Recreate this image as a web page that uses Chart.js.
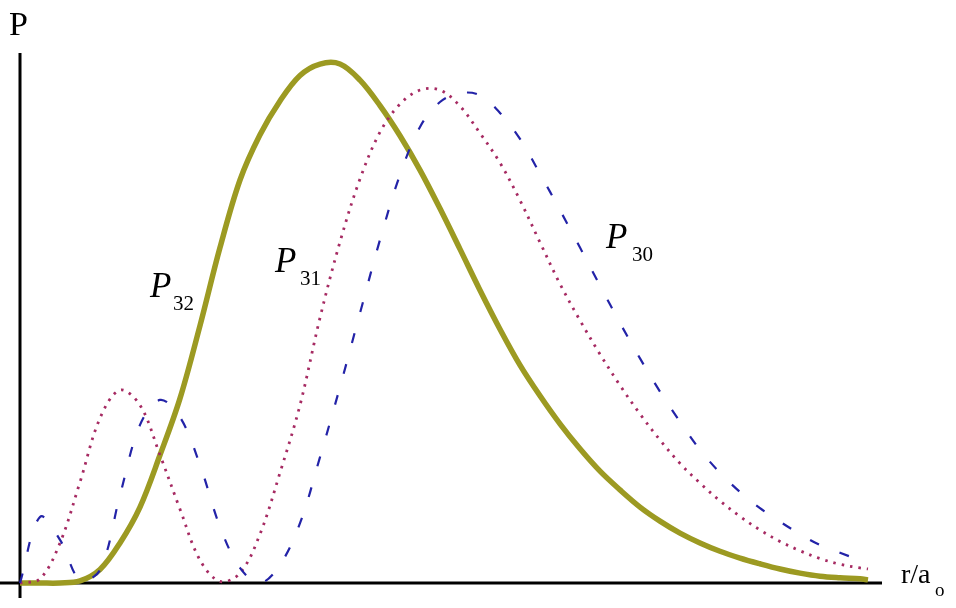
<!DOCTYPE html>
<html>
<head>
<meta charset="utf-8">
<script src="https://cdn.jsdelivr.net/npm/chart.js@4/dist/chart.umd.min.js"></script>
<style>
  html, body { margin: 0; padding: 0; background: #fff; }
  #plot { display: block; }
</style>
</head>
<body>
<canvas id="plot" width="956" height="608"></canvas>
<script>
// r/a0 sample positions (shared by all three curves)
var radius = [0, 0.5, 1, 1.5, 2, 2.5, 3, 3.5, 4, 4.5, 5, 5.5, 6, 6.5, 7, 7.5, 8, 8.5, 9, 9.5,
  10, 10.5, 11, 11.5, 12, 12.5, 13, 13.5, 14, 14.5, 15, 15.5, 16, 16.5, 17, 17.5, 18, 18.5,
  19, 19.5, 20, 20.5, 21, 21.2];

// values (peak of P32 = 100)
var p32 = [0, 0, 0, 0.4, 2.6, 7.7, 14.6, 24.6, 35.5, 49.5, 64.5, 77.5, 86.2, 92.7, 97.6, 99.8, 99.8,
  96.7, 91.8, 86.0, 79.4, 72.0, 64.2, 56.3, 48.8, 41.9, 36.0, 30.6, 25.8, 21.5, 17.9, 14.6, 11.9,
  9.6, 7.7, 6.1, 4.8, 3.7, 2.7, 1.9, 1.3, 1.0, 0.8, 0.6];
var p31 = [0, 0.8, 7.7, 19.4, 31.7, 37.1, 34.2, 24.6, 14.2, 4.4, 0.3, 1.9, 9.4, 21.2, 34.2, 51.0,
  65.6, 77.7, 86.7, 92.1, 94.8, 94.8, 91.7, 86.5, 80.8, 73.6, 65.5, 57.5, 50.5, 44.0, 38.0, 32.5,
  27.5, 23.0, 19.2, 15.8, 12.8, 10.2, 8.0, 6.2, 4.7, 3.6, 2.9, 2.7];
var p30 = [0, 12.7, 8.3, 0.6, 2.5, 16.9, 30.4, 35.2, 31.9, 22.7, 10.8, 2.9, 0, 3.5, 11.5, 24.2,
  37.7, 51.9, 66.0, 78.5, 87.7, 92.5, 94.2, 93.8, 90.4, 85.4, 78.7, 71.7, 64.5, 57.2, 50.0, 43.2,
  36.8, 31.0, 25.6, 21.2, 17.5, 14.4, 11.8, 9.4, 7.3, 5.8, 4.4];

function points(values) {
  return values.map(function (v, i) { return { x: radius[i], y: v }; });
}

// axes and the hand-written style labels
var overlay = {
  id: "overlay",
  beforeDatasetsDraw(chart) {
    var ctx = chart.ctx, area = chart.chartArea;
    var x0 = chart.scales.x.getPixelForValue(0);
    var y0 = chart.scales.y.getPixelForValue(0);
    ctx.save();
    ctx.strokeStyle = "#000";
    ctx.lineWidth = 3;
    ctx.beginPath();
    ctx.moveTo(x0, area.top);
    ctx.lineTo(x0, area.bottom);
    ctx.moveTo(area.left, y0);
    ctx.lineTo(area.right, y0);
    ctx.stroke();
    ctx.restore();
  },
  afterDraw(chart) {
    var ctx = chart.ctx;
    ctx.save();
    ctx.fillStyle = "#000";
    ctx.textBaseline = "alphabetic";

    ctx.font = "34px 'Liberation Serif', serif";
    ctx.fillText("P", 9, 35);
    ctx.font = "28px 'Liberation Serif', serif";
    ctx.fillText("r/a", 901, 583);
    ctx.font = "19px 'Liberation Serif', serif";
    ctx.fillText("o", 935, 596);

    var labels = [
      { sub: "32", x: 150, y: 297, sx: 173, sy: 310 },
      { sub: "31", x: 275, y: 272, sx: 300, sy: 285 },
      { sub: "30", x: 606, y: 248, sx: 632, sy: 261 }
    ];
    labels.forEach(function (l) {
      ctx.font = "italic 35px 'Liberation Serif', serif";
      ctx.fillText("P", l.x, l.y);
      ctx.font = "21px 'Liberation Serif', serif";
      ctx.fillText(l.sub, l.sx, l.sy);
    });
    ctx.restore();
  }
};

new Chart(document.getElementById("plot"), {
  type: "line",
  data: {
    datasets: [
      {
        label: "P30",
        data: points(p30),
        borderColor: "#2323a8",
        borderWidth: 2.2,
        borderDash: [10, 22],
        pointRadius: 0,
        fill: false,
        tension: 0.35,
      },
      {
        label: "P31",
        data: points(p31),
        borderColor: "#a62a62",
        borderWidth: 2.8,
        borderDash: [2.5, 6],
        pointRadius: 0,
        fill: false,
        tension: 0.35,
      },
      {
        label: "P32",
        data: points(p32),
        borderColor: "#9c9a22",
        borderWidth: 5.5,
        pointRadius: 0,
        fill: false,
        tension: 0.35,
      },
    ],
  },
  options: {
    responsive: false,
    animation: false,
    layout: { padding: { left: 0, top: 53, right: 74, bottom: 10 } },
    plugins: {
      legend: { display: false },
      tooltip: { enabled: false },
    },
    scales: {
      x: { type: "linear", display: false, min: -0.5, max: 21.55 },
      y: { type: "linear", display: false, min: -2.885, max: 101.92 },
    },
  },
  plugins: [overlay],
});
</script>
</body>
</html>
